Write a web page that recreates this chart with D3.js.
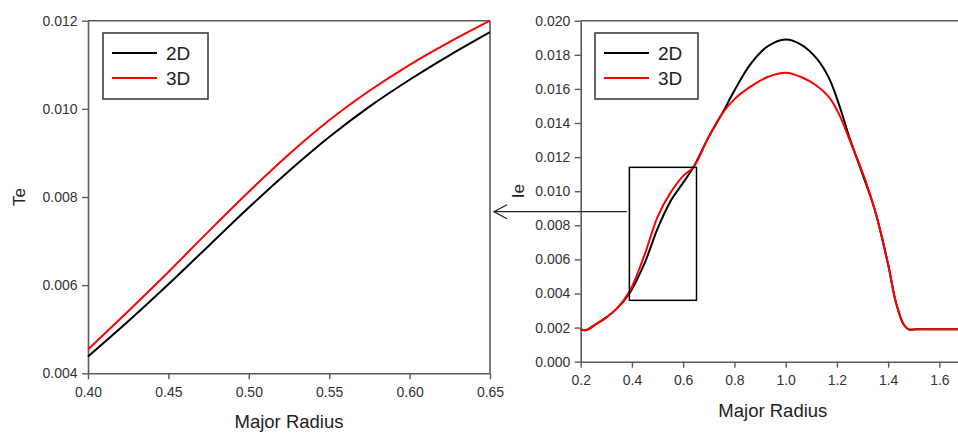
<!DOCTYPE html>
<html>
<head>
<meta charset="utf-8">
<script src="https://cdn.jsdelivr.net/npm/d3@7"></script>
<style>
  body { margin: 0; background: #fff; }
  text { font-family: "Liberation Sans", Arial, sans-serif; }
</style>
</head>
<body>
<div id="chart"></div>
<script>
// zoomed panel (left)
let zoomX = [0.40, 0.425, 0.45, 0.475, 0.50, 0.525, 0.55, 0.575, 0.60, 0.625, 0.65];
let zoom2D = [0.00438, 0.00518, 0.00602, 0.00689, 0.00776, 0.00859, 0.00936, 0.01005, 0.01066, 0.01122, 0.01174];
let zoom3D = [0.00454, 0.00541, 0.0063, 0.00722, 0.00812, 0.00897, 0.00974, 0.01041, 0.0110, 0.01152, 0.0120];
let zoomXTicks = [0.40, 0.45, 0.50, 0.55, 0.60, 0.65];
let zoomYTicks = [0.004, 0.006, 0.008, 0.010, 0.012];

// full profile (right)
let fullX = [0.20, 0.22, 0.26, 0.30, 0.34, 0.39, 0.45, 0.50, 0.55, 0.60, 0.64, 0.70, 0.75, 0.80, 0.86, 0.93, 1.00, 1.06, 1.12, 1.17, 1.21, 1.25, 1.30, 1.35, 1.40, 1.43, 1.46, 1.48, 1.51, 1.60, 1.70];
let full2D = [0.0019, 0.00185, 0.0022, 0.0026, 0.0031, 0.0040, 0.0058, 0.0078, 0.0094, 0.0105, 0.0114, 0.0132, 0.0145, 0.0159, 0.0174, 0.0185, 0.0189, 0.0186, 0.0178, 0.0166, 0.0150, 0.0131, 0.0110, 0.0088, 0.0057, 0.0035, 0.0022, 0.0019, 0.0019, 0.0019, 0.0019];
let full3D = [0.0019, 0.00185, 0.0022, 0.0026, 0.0031, 0.0041, 0.0063, 0.0085, 0.0099, 0.0109, 0.0114, 0.0132, 0.0145, 0.0154, 0.0161, 0.0167, 0.01695, 0.0167, 0.0162, 0.0155, 0.01446, 0.0130, 0.0111, 0.0088, 0.0057, 0.0035, 0.0022, 0.0019, 0.0019, 0.0019, 0.0019];
let fullXTicks = [0.2, 0.4, 0.6, 0.8, 1.0, 1.2, 1.4, 1.6];
let fullYTicks = [0.000, 0.002, 0.004, 0.006, 0.008, 0.010, 0.012, 0.014, 0.016, 0.018, 0.020];

// window drawn on the right panel
let boxX = [0.39, 0.652];
let boxY = [0.0036, 0.0114];

let seriesNames = ["2D", "3D"];
let seriesColors = ["#000000", "#ff0000"];

let width = 958;
let height = 433;

let svg = d3.select("#chart")
  .append("svg")
  .attr("width", width)
  .attr("height", height);

let axisColor = "#5a5a5a";

function drawPanel(p) {
  let x = d3.scaleLinear().domain(p.xDomain).range([p.left, p.right]);
  let y = d3.scaleLinear().domain(p.yDomain).range([p.bottom, p.top]);

  let g = svg.append("g");

  // frame
  g.append("line")
    .attr("x1", p.left).attr("x2", p.right)
    .attr("y1", p.top).attr("y2", p.top)
    .attr("stroke", axisColor).attr("stroke-width", 1.6);
  if (p.rightFrame) {
    g.append("line")
      .attr("x1", p.right).attr("x2", p.right)
      .attr("y1", p.top).attr("y2", p.bottom)
      .attr("stroke", axisColor).attr("stroke-width", 1.6);
  }

  let xAxis = g.append("g")
    .attr("transform", "translate(0," + p.bottom + ")")
    .call(d3.axisBottom(x).tickValues(p.xTicks).tickFormat(d3.format(p.xFmt)).tickSize(6).tickSizeOuter(0));
  let yAxis = g.append("g")
    .attr("transform", "translate(" + p.left + ",0)")
    .call(d3.axisLeft(y).tickValues(p.yTicks).tickFormat(d3.format(".3f")).tickSize(6).tickSizeOuter(0));

  [xAxis, yAxis].forEach(a => {
    a.select(".domain").attr("stroke", axisColor).attr("stroke-width", 1.6);
    a.selectAll(".tick line").attr("stroke", axisColor).attr("stroke-width", 1.4);
    a.selectAll(".tick text")
      .attr("fill", "#333")
      .style("font-size", "14px")
      .style("font-family", "'Liberation Sans', Arial, sans-serif");
  });
  xAxis.selectAll(".tick text").attr("dy", "1.05em");
  yAxis.selectAll(".tick text").attr("dx", "-0.1em");

  // curves
  let line = d3.line()
    .x(d => x(d[0]))
    .y(d => y(d[1]))
    .curve(d3.curveCatmullRom.alpha(0.5));

  p.series.forEach((s, i) => {
    g.append("path")
      .datum(p.xs.map((v, j) => [v, s[j]]))
      .attr("d", line)
      .attr("fill", "none")
      .attr("stroke", seriesColors[i])
      .attr("stroke-width", 2);
  });

  // legend
  let lg = g.append("g").attr("transform", "translate(" + p.legend[0] + "," + p.legend[1] + ")");
  lg.append("rect")
    .attr("width", p.legendW).attr("height", 66)
    .attr("fill", "#fff")
    .attr("stroke", "#333").attr("stroke-width", 1.5);
  seriesNames.forEach((n, i) => {
    lg.append("line")
      .attr("x1", 9).attr("x2", 54)
      .attr("y1", 20 + i * 25).attr("y2", 20 + i * 25)
      .attr("stroke", seriesColors[i]).attr("stroke-width", 2);
    lg.append("text")
      .attr("x", 63).attr("y", 27 + i * 25)
      .attr("fill", "#222")
      .style("font-size", "19px")
      .text(n);
  });

  // axis titles
  g.append("text")
    .attr("x", (p.left + p.right) / 2)
    .attr("y", p.xTitleY)
    .attr("text-anchor", "middle")
    .attr("fill", "#222")
    .style("font-size", "18.5px")
    .text("Major Radius");
  g.append("text")
    .attr("transform", "translate(" + p.yTitleX + "," + (p.top + p.bottom) / 2 + ") rotate(-90)")
    .attr("text-anchor", "middle")
    .attr("fill", "#222")
    .style("font-size", "17px")
    .text(p.yTitle);

  return {x: x, y: y, g: g};
}

drawPanel({
  left: 88, right: 490, top: 20.7, bottom: 373.3,
  xDomain: [0.40, 0.65], yDomain: [0.004, 0.012],
  xTicks: zoomXTicks, yTicks: zoomYTicks, xFmt: ".2f",
  xs: zoomX, series: [zoom2D, zoom3D],
  rightFrame: true,
  legend: [103, 33], legendW: 105,
  xTitleY: 428, yTitleX: 25, yTitle: "Te"
});

let right = drawPanel({
  left: 580.7, right: 965, top: 20.7, bottom: 361.7,
  xDomain: [0.2, 1.7], yDomain: [0.000, 0.020],
  xTicks: fullXTicks, yTicks: fullYTicks, xFmt: ".1f",
  xs: fullX, series: [full2D, full3D],
  rightFrame: false,
  legend: [595, 33], legendW: 103,
  xTitleY: 417, yTitleX: 524, yTitle: "Ie"
});

// zoom window and arrow pointing back to the left panel
let bx0 = right.x(boxX[0]), bx1 = right.x(boxX[1]);
let by0 = right.y(boxY[1]), by1 = right.y(boxY[0]);
svg.append("rect")
  .attr("x", bx0).attr("y", by0)
  .attr("width", bx1 - bx0).attr("height", by1 - by0)
  .attr("fill", "none")
  .attr("stroke", "#000").attr("stroke-width", 1.5);

let arrowY = 211.7;
svg.append("line")
  .attr("x1", bx0 - 2.5).attr("x2", 494)
  .attr("y1", arrowY).attr("y2", arrowY)
  .attr("stroke", "#222").attr("stroke-width", 1.3);
svg.append("path")
  .attr("d", "M507," + (arrowY - 7) + "L494," + arrowY + "L507," + (arrowY + 7))
  .attr("fill", "none")
  .attr("stroke", "#222").attr("stroke-width", 1.3);
</script>
</body>
</html>
